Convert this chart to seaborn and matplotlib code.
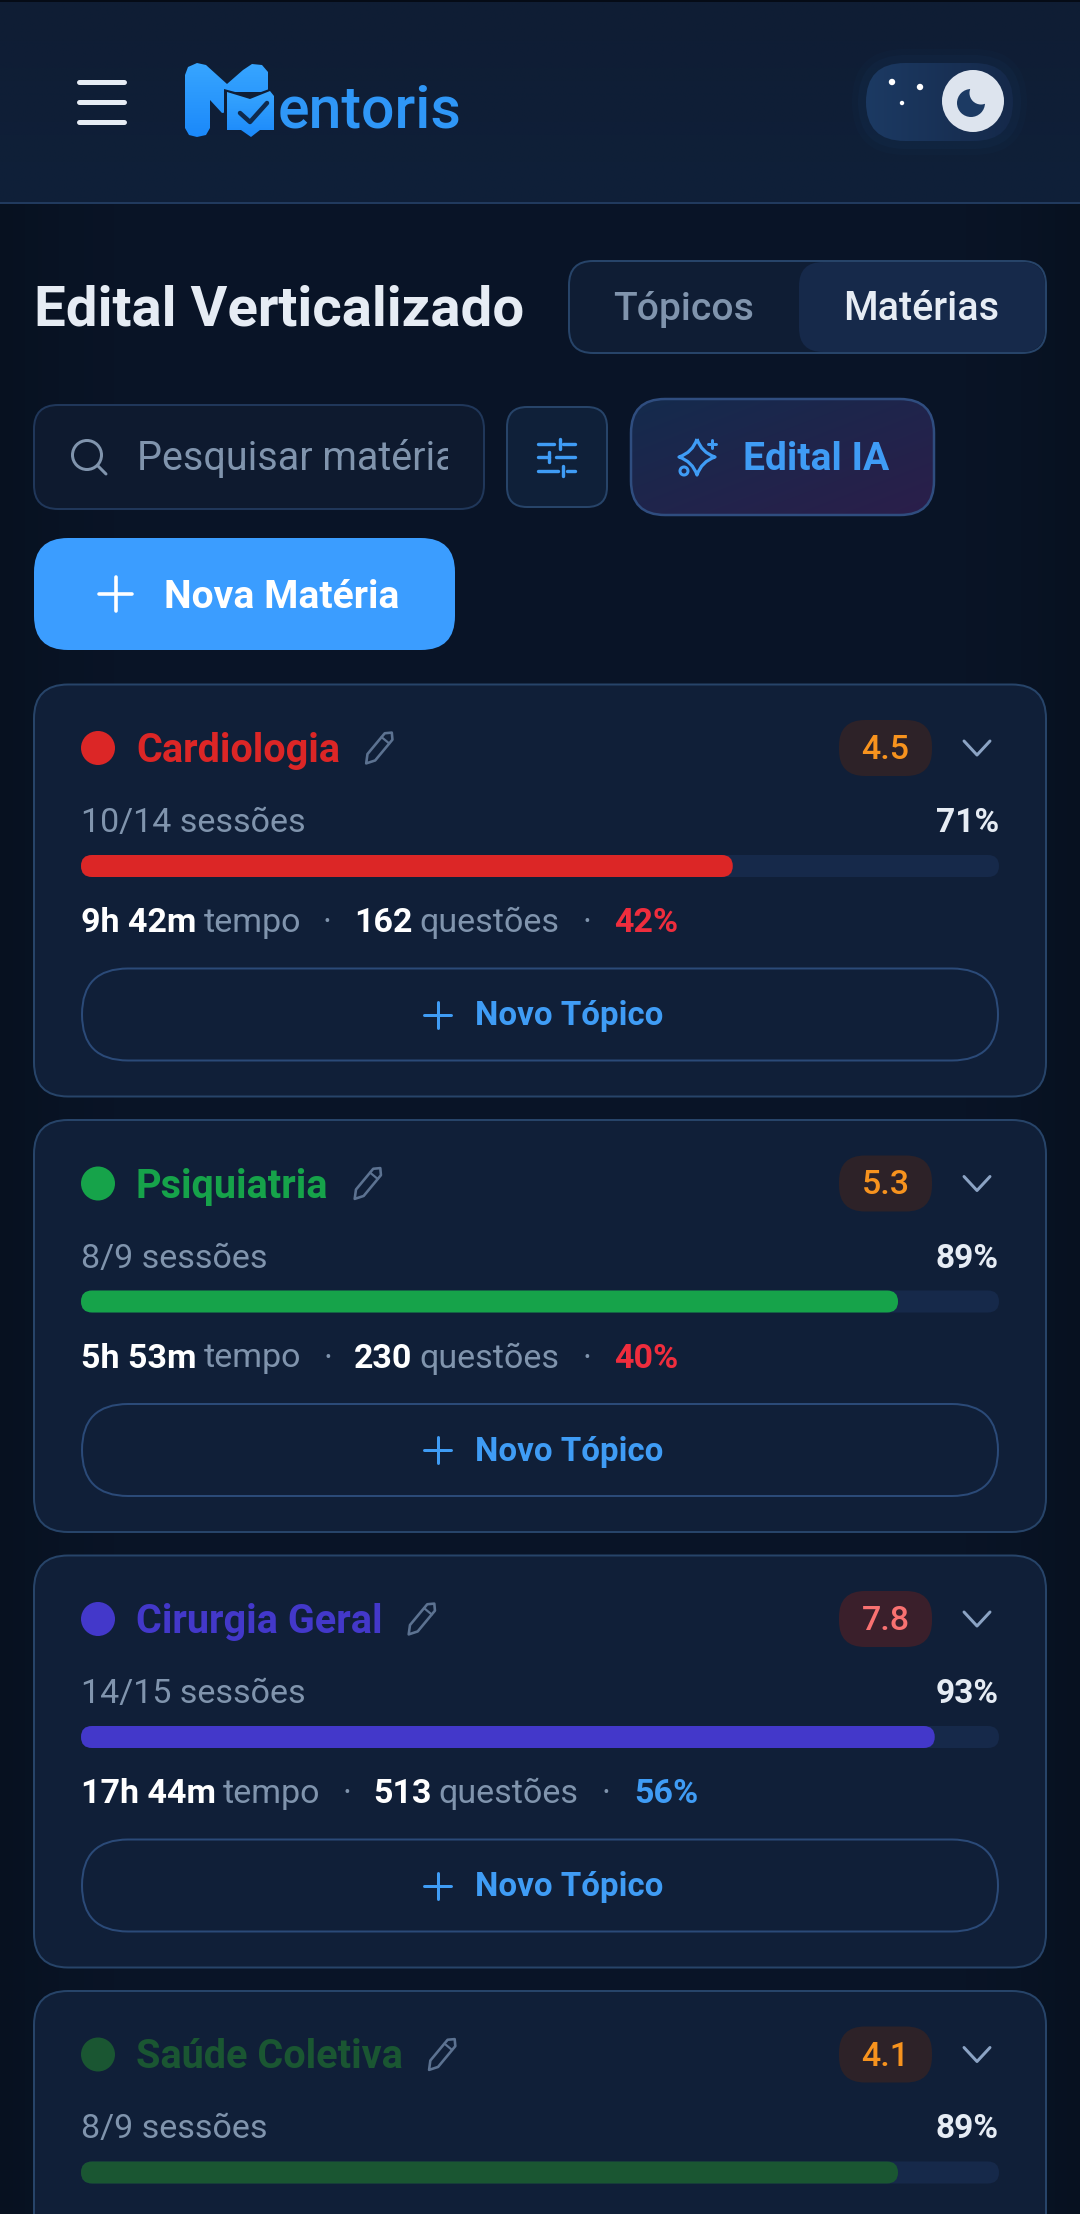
import numpy as np
import pandas as pd
import matplotlib
matplotlib.use("Agg")
import matplotlib.pyplot as plt
from matplotlib.colors import to_rgb
from matplotlib.patches import FancyBboxPatch, Circle, Polygon, PathPatch, Rectangle
from matplotlib.path import Path
import seaborn as sns

# ---------- data ----------
subjects = ["Cardiologia", "Psiquiatria", "Cirurgia Geral", "Saúde Coletiva"]
subject_colors = ["#dc2626", "#16a34a", "#4338ca", "#1a5632"]
grades = ["4.5", "5.3", "7.8", "4.1"]
sessions_done = [10, 8, 14, 8]
sessions_total = [14, 9, 15, 9]
progress_pct = [71, 89, 93, 89]
times = ["9h 42m", "5h 53m", "17h 44m"]
questions = [162, 230, 513]
accuracy = [42, 40, 56]
W, H = 1080, 2214

sns.set_theme(style="dark")
plt.rcParams["font.family"] = ["Roboto", "DejaVu Sans"]
fig = plt.figure(figsize=(W / 100, H / 100), dpi=100)
ax = fig.add_axes([0, 0, 1, 1])
ax.set_xlim(0, W)
ax.set_ylim(H, 0)
ax.autoscale(False)
ax.axis("off")

BLUE = "#3f9cf5"
BORDER = "#274469"
CARD = "#101f38"
MUTED = "#8094ad"
LIGHT = "#e6ecf4"
PX = 0.72


def rbox(x0, y0, x1, y1, r, fc="none", ec="none", lw=2.0, z=2, alpha=None):
    p = FancyBboxPatch((x0, y0), x1 - x0, y1 - y0, boxstyle=f"round,pad=0,rounding_size={r}",
                       fc=fc, ec=ec, lw=lw * PX, zorder=z, alpha=alpha)
    ax.add_patch(p)
    return p


def grad(x0, y0, x1, y1, c0, c1, mode="h", clip=None, z=2):
    u, v = np.meshgrid(np.linspace(0, 1, 128), np.linspace(0, 1, 128))
    t = {"h": u, "v": v, "d": (u + v) / 2}[mode]
    c0, c1 = np.array(to_rgb(c0)), np.array(to_rgb(c1))
    img = (1 - t)[..., None] * c0 + t[..., None] * c1
    im = ax.imshow(img, extent=(x0, x1, y1, y0), aspect="auto", zorder=z, interpolation="bilinear")
    if clip is not None:
        im.set_clip_path(clip)
    return im


def line(xs, ys, c, lw, z=4):
    ax.plot(xs, ys, color=c, lw=lw * PX, solid_capstyle="round", solid_joinstyle="round", zorder=z)


def txt(x, y, s, size, c, weight="normal", ha="left", va="center_baseline", z=5):
    return ax.text(x, y, s, fontsize=size * PX, color=c, fontweight=weight, ha=ha, va=va, zorder=z)


def right_edge(t):
    # the main axes fills the figure, so display pixels equal data units in x
    return t.get_window_extent(fig.canvas.get_renderer()).x1


# ---------- background ----------
t = np.abs(np.linspace(-1, 1, 256)) ** 6
bg = np.outer(1 - t, np.array(to_rgb("#0a1528"))) + np.outer(t, np.array(to_rgb("#071120")))
ax.imshow(bg[None, :, :], extent=(0, W, H, 0), aspect="auto", zorder=0)
grad(0, 0, W, 203, "#0f1d34", "#0f2039", mode="v", z=1)
ax.plot([0, W], [203, 203], color="#213a5e", lw=2 * PX, zorder=2)
ax.plot([0, W], [0.5, 0.5], color="#050b16", lw=2 * PX, zorder=2)

# hamburger
for y in (81.5, 102, 122):
    line([79, 124], [y, y], LIGHT, 5)

# logo
m_pts = [(185, 75), (188, 67), (197, 63), (206, 65), (227, 84), (243, 70), (252, 64), (262, 65), (268, 72),
         (268, 92), (228, 92), (228, 112), (222, 113), (210, 100), (210, 128), (206, 135), (197, 137),
         (189, 135), (185, 128)]
m_patch = Polygon(m_pts, closed=True, fc="none", ec="none", transform=ax.transData)
ax.add_patch(m_patch)
grad(183, 62, 270, 138, "#38a6ff", "#1a88fa", mode="v", clip=m_patch, z=3)
book = [(227, 92), (250, 99), (270, 91), (274, 96), (274, 130), (260, 130), (251, 137), (241, 130), (227, 130)]
ax.add_patch(Polygon([(224, 89), (250, 96), (272, 88), (277, 95), (277, 133), (261, 133), (251, 140), (240, 133),
                      (224, 133)], closed=True, fc="#0f1e36", ec="none", zorder=3.5))
book_patch = Polygon(book, closed=True, fc="none", ec="none", transform=ax.transData)
ax.add_patch(book_patch)
grad(225, 90, 276, 138, "#38a6ff", "#1a88fa", mode="v", clip=book_patch, z=3.6)
line([240, 250, 267], [113, 122, 103], "#0f2a4d", 4.5, z=4)
txt(278, 128, "entoris", 59, "#2f97f7", va="baseline", weight="medium")

# theme toggle
for grow, al in ((14, 0.05), (8, 0.08)):
    rbox(866 - grow, 63 - grow, 1013 + grow, 141 + grow, 39 + grow, fc="#1e4a80", alpha=al, z=2)
tog = rbox(866, 63, 1013, 141, 39, fc="none")
grad(866, 63, 1013, 141, "#1c3a63", "#15294a", clip=tog, z=3)
for (cx, cy), r in zip([(892, 82), (920, 87), (902, 103)], [3.2, 3.2, 2.2]):
    ax.add_patch(Circle((cx, cy), r, fc="white", ec="none", zorder=4))
ax.add_patch(Circle((973, 101), 31, fc="#dde4ee", ec="none", zorder=4))
ax.add_patch(Circle((971, 103), 14, fc="#1c3a63", ec="none", zorder=4.1))
ax.add_patch(Circle((981, 93), 11.5, fc="#dde4ee", ec="none", zorder=4.2))

# title + segmented control
txt(34, 305, "Edital Verticalizado", 56.4, LIGHT, weight="bold")
rbox(569, 261, 1046, 353, 24, fc="#0f1d34", ec=BORDER)
rbox(799, 262, 1045, 352, 24, fc="#16294a", z=3)
txt(683.5, 305, "Tópicos", 39, MUTED, weight="medium", ha="center")
txt(921, 305, "Matérias", 39.5, LIGHT, weight="medium", ha="center")

# search
rbox(34, 405, 484, 509, 24, fc="#0e1a2f", ec="#20375a")
clip_r = Rectangle((34, 405), 414, 104, transform=ax.transData, fc="none", ec="none")
ax.add_patch(clip_r)
tx = txt(137, 455, "Pesquisar matéria...", 39.5, MUTED)
tx.set_clip_path(clip_r)
tx.set_clip_on(True)
ax.add_patch(Circle((87, 455), 14.5, fc="none", ec=MUTED, lw=3 * PX, zorder=4))
line([97.5, 106], [465.5, 474], MUTED, 3)

# filter button
rbox(507, 407, 607, 507, 20, fc="#0f2039", ec=BORDER)
for segs, tick, y in (((538, 554, 563, 575), 560, 444), ((538, 549, 556, 575), 549, 457), ((538, 558, 567, 575), 563, 471)):
    line(segs[:2], [y, y], BLUE, 3.4)
    line(segs[2:], [y, y], BLUE, 3.4)
    line([tick, tick], [y - 5, y + 5], BLUE, 3.4)

# Edital IA button
ia = rbox(631, 399, 934, 515, 34, fc="none", ec="#2f4d7f", lw=2.5, z=4)
grad(631, 399, 934, 515, "#142b4d", "#2b1e4a", mode="d", clip=ia, z=3)
cx, cy = 697, 457
Rx, Ry = 18, 18
k = 0.25
v = [(cx, cy - Ry), (cx + k * Rx, cy - k * Ry), (cx + Rx, cy), (cx + k * Rx, cy + k * Ry), (cx, cy + Ry),
     (cx - k * Rx, cy + k * Ry), (cx - Rx, cy), (cx - k * Rx, cy - k * Ry), (cx, cy - Ry)]
codes = [Path.MOVETO] + [Path.CURVE3] * 8
ax.add_patch(PathPatch(Path(v, codes), fc="none", ec=BLUE, lw=3.2 * PX, joinstyle="round", zorder=5))
line([712, 712], [440, 448], BLUE, 3)
line([708, 716], [444, 444], BLUE, 3)
ax.add_patch(Circle((684, 471), 4, fc="none", ec=BLUE, lw=3 * PX, zorder=5))
txt(743, 455, "Edital IA", 39, BLUE, weight="bold")

# new subject
rbox(34, 538, 455, 650, 34, fc="#3b9dff")
line([99, 132], [594, 594], "white", 3.6, z=5)
line([115.5, 115.5], [577, 611], "white", 3.6, z=5)
txt(164, 593, "Nova Matéria", 39, "white", weight="bold")

# ---------- cards ----------
CARD_TOP = [684.5, 1120, 1555.5, 1991]
BAR_L, BAR_R = 81, 999


def pencil(cx, cy):
    d = np.array([0.64, -0.77])
    n = np.array([0.77, 0.64])
    c = np.array([cx, cy])
    a = c - d * 12 + n * 5
    b = c + d * 15 + n * 5
    e = c + d * 15 - n * 5
    f = c - d * 12 - n * 5
    tip = c - d * 20
    top = c + d * 20
    col = "#5c7291"
    ax.add_patch(Polygon([a, b, top, e, f, tip], closed=True, fc="none", ec=col, lw=2.6 * PX,
                         joinstyle="round", zorder=4))
    p0, p1 = c + d * 10 + n * 5, c + d * 10 - n * 5
    line([p0[0], p1[0]], [p0[1], p1[1]], col, 2.2)


for i, name in enumerate(subjects):
    top = CARD_TOP[i]
    rbox(34, top, 1046, top + 412, 34, fc=CARD, ec=BORDER)
    col = subject_colors[i]
    yh = top + 63.5
    ax.add_patch(Circle((98, yh), 17, fc=col, ec="none", zorder=4))
    t0 = txt(136, yh - 1, name, 39.6, col, weight="bold")
    pencil(right_edge(t0) + 39, yh)
    # grade badge
    high = float(grades[i]) >= 7
    rbox(839, top + 35.5, 932, top + 91.5, 26, fc="#3a1f2b" if high else "#2d2228", z=3)
    txt(885.5, yh - 1.5, grades[i], 34, "#f87171" if high else "#f7931e", weight="medium", ha="center")
    line([964, 977, 990], [yh - 7, yh + 7, yh - 7], "#8ba3c4", 3)
    # sessions
    ys = top + 135
    txt(81, ys, f"{sessions_done[i]}/{sessions_total[i]} sessões", 34, MUTED)
    txt(999, ys, f"{progress_pct[i]}%", 33.5, LIGHT, weight="bold", ha="right")
    # progress bar, seaborn axes spanning the track
    by0, by1 = top + 170.5, top + 192.5
    bax = fig.add_axes([BAR_L / W, 1 - by1 / H, (BAR_R - BAR_L) / W, (by1 - by0) / H])
    frame = pd.DataFrame({"subject": [name], "pct": [progress_pct[i]]})
    sns.barplot(data=frame, x="pct", y="subject", color=col, width=1.0, saturation=1, ax=bax)
    bax.set_xlim(0, 100)
    bax.set_ylim(0.5, -0.5)
    bax.axis("off")
    bax.patch.set_alpha(0)
    asp = (1 / 22) / (100 / (BAR_R - BAR_L))
    r = 11 * 100 / (BAR_R - BAR_L)
    bax.add_patch(FancyBboxPatch((0, -0.5), 100, 1, boxstyle=f"round,pad=0,rounding_size={r}",
                                 mutation_aspect=asp, fc="#16294a", ec="none", zorder=1, clip_on=False))
    for bar in list(bax.patches):
        if isinstance(bar, Rectangle):
            x, y, w, h = bar.get_x(), bar.get_y(), bar.get_width(), bar.get_height()
            bar.set_visible(False)
            bax.add_patch(FancyBboxPatch((x, y), w, h, boxstyle=f"round,pad=0,rounding_size={r}",
                                         mutation_aspect=asp, fc=col, ec="none", zorder=2, clip_on=False))
    # stats line and add button
    if i < len(times):
        yt = top + 235
        x = 81
        acc_col = BLUE if accuracy[i] >= 50 else "#ef2d3d"
        parts = [(times[i], "white", "bold", 7), ("tempo", MUTED, "normal", 22), ("·", MUTED, "normal", 22),
                 (str(questions[i]), "white", "bold", 7), ("questões", MUTED, "normal", 23),
                 ("·", MUTED, "normal", 23), (f"{accuracy[i]}%", acc_col, "bold", 0)]
        for s, c, wgt, gap in parts:
            tt = txt(x, yt, s, 34, c, weight=wgt)
            x = right_edge(tt) + gap
        rbox(82, top + 284, 998, top + 376, 46, fc="none", ec="#2b4a78", z=4)
        yb = top + 330
        line([424, 451], [yb, yb], BLUE, 3)
        line([437.5, 437.5], [yb - 13, yb + 13], BLUE, 3)
        txt(475, yb - 2, "Novo Tópico", 33, BLUE, weight="bold")

fig.savefig("out.png", dpi=100, facecolor="#0a1528")
